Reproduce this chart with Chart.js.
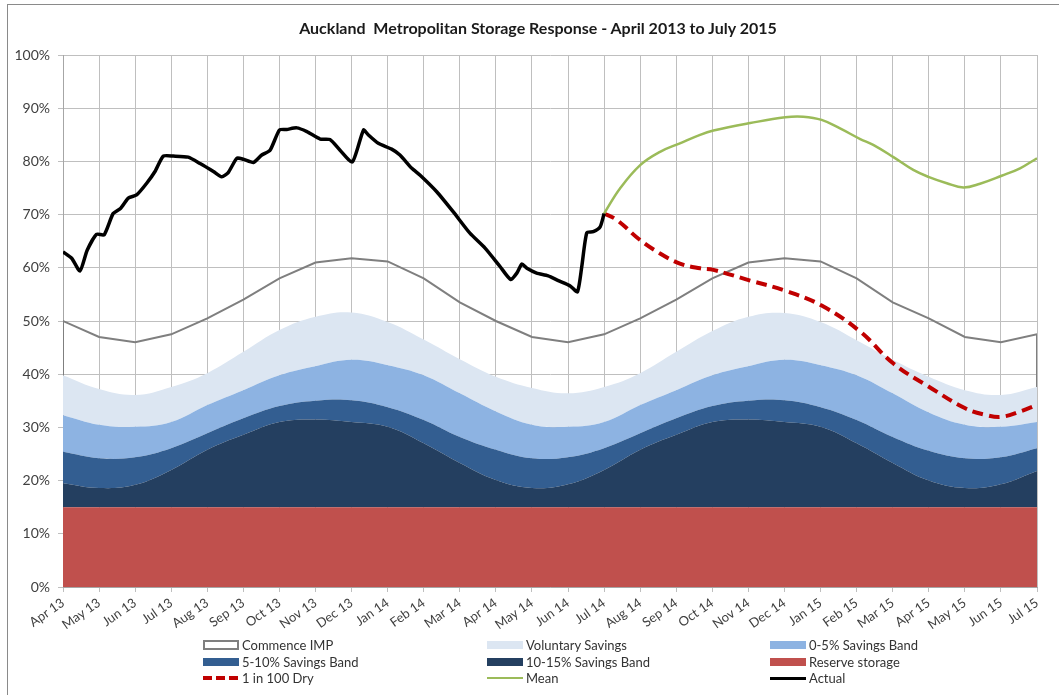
<!DOCTYPE html>
<html>
<head>
<meta charset="utf-8">
<script src="https://cdn.jsdelivr.net/npm/chart.js@4"></script>
<style>
  html, body { margin: 0; padding: 0; background: #fff; }
  #wrap { position: relative; width: 1059px; height: 695px; overflow: hidden; font-family: Lato, "Liberation Sans", sans-serif; }
  #frame { position: absolute; left: 7px; top: 4px; width: 1100px; height: 740px; border: 1px solid #8a8a8a; box-sizing: border-box; }
  #title { position: absolute; left: 0; width: 1076px; top: 18px; text-align: center; font-weight: bold; font-size: 16px; color: #1a1a1a; }
  canvas { position: absolute; left: 0; top: 0; }
  .lg { position: absolute; font-size: 13px; color: #333; display: flex; align-items: center; height: 16px; white-space: nowrap; }
  .sw { display: inline-block; width: 36px; margin-right: 3px; }
</style>
</head>
<body>
<div id="wrap">
  <div id="frame"></div>
  <canvas id="c" width="1059" height="695"></canvas>
  <div id="title">Auckland&nbsp; Metropolitan Storage Response - April 2013 to July 2015</div>
  <div id="legend"></div>
</div>
<script>
// ---- Data ----
const months = ['Apr 13','May 13','Jun 13','Jul 13','Aug 13','Sep 13','Oct 13','Nov 13','Dec 13','Jan 14','Feb 14','Mar 14',
                'Apr 14','May 14','Jun 14','Jul 14','Aug 14','Sep 14','Oct 14','Nov 14','Dec 14','Jan 15','Feb 15','Mar 15',
                'Apr 15','May 15','Jun 15','Jul 15'];
const yTicks = [0,10,20,30,40,50,60,70,80,90,100];

const reserveStorage = [15,15,15,15,15,15,15,15,15,15,15,15,15,15,15,15,15,15,15,15,15,15,15,15,15,15,15,15];
const band10to15Top = [19.5,18.6,19.2,22.0,25.8,28.6,31.0,31.5,31.0,30.1,27.0,23.3,
                       20.1,18.6,19.3,22.0,25.8,28.6,31.0,31.5,31.0,30.1,27.0,23.3,
                       20.0,18.6,19.3,21.8];
const band5to10Top  = [25.4,24.2,24.4,26.1,28.9,31.7,34.0,35.0,35.1,33.8,31.4,28.2,
                       25.8,24.2,24.4,26.1,28.9,31.7,34.0,35.0,35.1,33.8,31.4,28.2,
                       25.6,24.2,24.4,26.1];
const band0to5Top   = [32.3,30.5,30.1,31.0,34.2,37.0,39.8,41.5,42.7,41.7,39.8,36.4,
                       33.0,30.5,30.1,31.0,34.2,37.0,39.8,41.5,42.7,41.7,39.8,36.4,
                       32.8,30.5,30.1,31.0];
const voluntaryTop  = [39.8,37.2,36.1,37.6,40.2,44.2,48.3,50.8,51.6,49.8,46.5,42.8,
                       39.5,37.4,36.4,37.6,40.2,44.2,48.1,50.8,51.5,49.8,46.4,42.7,
                       39.5,37.0,36.1,37.6];
const commenceIMP   = [50.0,47.0,46.0,47.5,50.5,54.0,58.0,61.0,61.8,61.2,58.0,53.5,
                       50.0,47.0,46.0,47.5,50.5,54.0,58.0,61.0,61.8,61.2,58.0,53.5,
                       50.5,47.0,46.0,47.5];

// Actual storage (month position, %)
const actualPos = [0,0.24,0.47,0.67,0.93,1.14,1.39,1.6,1.81,2.04,2.32,2.55,2.78,3.06,3.47,3.8,4.17,4.4,4.58,4.82,5.0,5.28,5.51,5.74,6.0,6.2,6.48,6.76,7.13,7.4,7.68,8.02,
                   8.33,8.46,8.74,9.11,9.34,9.67,9.9,10.36,10.82,11.28,11.7,12.12,12.41,12.58,12.72,12.86,13.13,13.45,13.73,14.06,14.26,14.38,14.52,14.7,14.89,15.0];
const actualVal = [63.0,61.8,59.4,63.3,66.3,66.2,70.2,71.2,73.1,73.7,75.9,78.1,81.0,81.0,80.8,79.6,78.1,77.1,77.9,80.6,80.4,79.8,81.2,82.1,85.9,86.0,86.3,85.6,84.2,84.1,82.1,79.9,
                   85.9,85.0,83.4,82.3,81.2,78.7,77.4,74.3,70.5,66.5,63.7,60.2,57.8,59.0,60.7,59.9,59.0,58.5,57.6,56.6,55.5,60.2,66.6,66.8,67.7,70.2];
// Mean forecast
const meanPos = [15.0,15.44,16.0,16.55,17.1,17.66,18.03,19.05,20.02,20.52,21.03,21.54,22.1,22.46,23.02,23.57,23.99,24.5,24.96,25.42,26.02,26.53,27.0];
const meanVal = [70.2,74.9,79.3,81.8,83.4,85.0,85.8,87.2,88.3,88.4,87.8,86.2,84.2,83.1,80.8,78.4,77.1,75.9,75.1,75.8,77.3,78.7,80.6];
// 1 in 100 dry forecast
const dryPos = [15.0,15.35,16.0,16.55,17.1,17.66,18.03,19.05,20.02,21.03,22.1,23.02,23.99,25.01,25.61,26.02,26.53,27.0];
const dryVal = [70.2,69.0,65.2,62.7,60.8,59.9,59.6,57.6,55.7,52.9,48.0,42.0,37.7,33.6,32.3,32.0,33.0,34.2];

// ---- helpers ----
const xy = (xs, ys) => xs.map((x, i) => ({x: x, y: ys[i]}));
const monthly = arr => arr.map((v, i) => ({x: i, y: v}));
// Commence IMP outline: the grey area outline drops to the voluntary band at both ends
const impOutline = [{x: 0, y: voluntaryTop[0]}].concat(monthly(commenceIMP))
  .concat([{x: months.length - 1, y: voluntaryTop[voluntaryTop.length - 1]}]);

const areaBase = { pointRadius: 0, borderWidth: 0, tension: 0.4, order: 5 };

const datasets = [
  Object.assign({}, areaBase, { label: 'Reserve storage', data: monthly(reserveStorage), backgroundColor: '#C0504D', borderColor: '#C0504D', fill: 'origin', tension: 0 }),
  Object.assign({}, areaBase, { label: '10-15% Savings Band', data: monthly(band10to15Top), backgroundColor: '#243F60', borderColor: '#243F60', fill: '-1' }),
  Object.assign({}, areaBase, { label: '5-10% Savings Band', data: monthly(band5to10Top), backgroundColor: '#335E91', borderColor: '#335E91', fill: '-1' }),
  Object.assign({}, areaBase, { label: '0-5% Savings Band', data: monthly(band0to5Top), backgroundColor: '#8DB3E2', borderColor: '#8DB3E2', fill: '-1' }),
  Object.assign({}, areaBase, { label: 'Voluntary Savings', data: monthly(voluntaryTop), backgroundColor: '#DCE6F2', borderColor: '#DCE6F2', fill: '-1' }),
  { label: 'Commence IMP', data: impOutline, borderColor: '#7F7F7F', borderWidth: 2, pointRadius: 0, fill: false, tension: 0, order: 4 },
  { label: '1 in 100 Dry', data: xy(dryPos, dryVal), borderColor: '#C00000', borderWidth: 4, borderDash: [11, 6], pointRadius: 0, fill: false, tension: 0.4, order: 3 },
  { label: 'Mean', data: xy(meanPos, meanVal), borderColor: '#9BBB59', borderWidth: 2.5, pointRadius: 0, fill: false, tension: 0.4, order: 2 },
  { label: 'Actual', data: xy(actualPos, actualVal), borderColor: '#000000', borderWidth: 3.5, pointRadius: 0, fill: false, tension: 0.2, borderJoinStyle: 'round', order: 1 }
];

new Chart(document.getElementById('c'), {
  type: 'line',
  data: { datasets: datasets },
  options: {
    responsive: false,
    animation: false,
    devicePixelRatio: 1,
    layout: { padding: { left: 0, right: 22, top: 55, bottom: 58 } },
    plugins: { legend: { display: false }, title: { display: false }, tooltip: { enabled: false } },
    scales: {
      x: {
        type: 'linear', min: 0, max: months.length - 1,
        afterFit: s => { s.height = 50; },
        afterBuildTicks: s => { s.ticks = months.map((m, i) => ({ value: i })); },
        ticks: {
          autoSkip: false, minRotation: 35, maxRotation: 35, padding: 3,
          color: '#404040', font: { family: 'Lato, "Liberation Sans", sans-serif', size: 13 },
          callback: v => months[v]
        },
        grid: { color: '#BFBFBF', lineWidth: 1, tickLength: 5, drawTicks: true },
        border: { color: '#A6A6A6' }
      },
      y: {
        min: 0, max: 100,
        afterFit: s => { s.width = 63; },
        afterBuildTicks: s => { s.ticks = yTicks.map(v => ({ value: v })); },
        ticks: {
          padding: 8, color: '#404040', font: { family: 'Lato, "Liberation Sans", sans-serif', size: 14 },
          callback: v => v + '%'
        },
        grid: { color: '#BFBFBF', lineWidth: 1, tickLength: 5 },
        border: { color: '#A6A6A6' }
      }
    }
  }
});

// ---- HTML legend (3 columns) ----
const legendItems = [
  { label: 'Commence IMP', kind: 'box', col: 0, row: 0, fill: '#fff', stroke: '#7F7F7F' },
  { label: 'Voluntary Savings', kind: 'box', col: 1, row: 0, fill: '#DCE6F2' },
  { label: '0-5% Savings Band', kind: 'box', col: 2, row: 0, fill: '#8DB3E2' },
  { label: '5-10% Savings Band', kind: 'box', col: 0, row: 1, fill: '#335E91' },
  { label: '10-15% Savings Band', kind: 'box', col: 1, row: 1, fill: '#243F60' },
  { label: 'Reserve storage', kind: 'box', col: 2, row: 1, fill: '#C0504D' },
  { label: '1 in 100 Dry', kind: 'dash', col: 0, row: 2, stroke: '#C00000' },
  { label: 'Mean', kind: 'line', col: 1, row: 2, stroke: '#9BBB59', w: 2 },
  { label: 'Actual', kind: 'line', col: 2, row: 2, stroke: '#000', w: 3 }
];
const colX = [203, 487, 770];
const rowY = [637, 654, 670];
const lg = document.getElementById('legend');
legendItems.forEach(it => {
  const d = document.createElement('div');
  d.className = 'lg';
  d.style.left = colX[it.col] + 'px';
  d.style.top = rowY[it.row] + 'px';
  const sw = document.createElement('span');
  sw.className = 'sw';
  if (it.kind === 'box') {
    sw.style.height = '8px';
    sw.style.background = it.fill;
    if (it.stroke) { sw.style.border = '2px solid ' + it.stroke; sw.style.boxSizing = 'border-box'; sw.style.height = '10px'; }
  } else if (it.kind === 'line') {
    sw.style.height = it.w + 'px';
    sw.style.background = it.stroke;
  } else {
    sw.style.height = '4px';
    sw.style.background = 'repeating-linear-gradient(90deg, ' + it.stroke + ' 0 9px, transparent 9px 13px)';
  }
  d.appendChild(sw);
  const t = document.createElement('span');
  t.textContent = it.label;
  d.appendChild(t);
  lg.appendChild(d);
});
</script>
</body>
</html>
